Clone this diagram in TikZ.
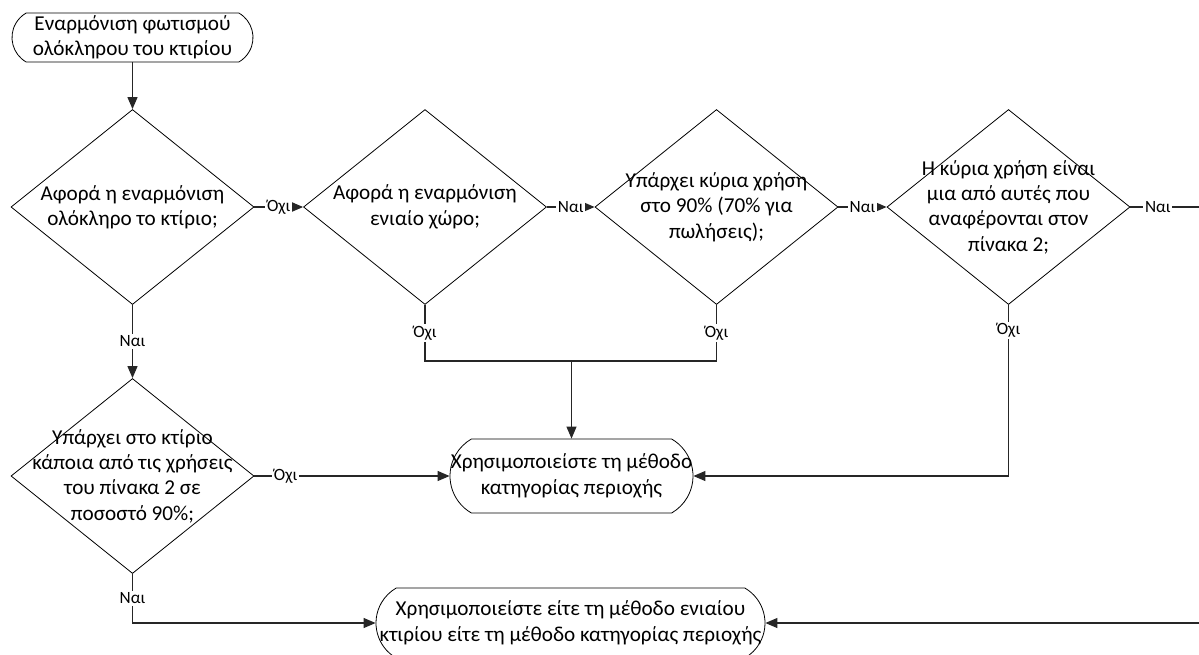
\documentclass[tikz,border=0pt]{standalone}
\usepackage{fontspec}
\setmainfont{Carlito}
\usetikzlibrary{arrows.meta,shapes.geometric,shapes.misc}
\tikzset{%
  decision/.style={draw,shape=diamond,minimum width=121.5pt,minimum height=97.5pt,inner sep=0},
  term/.style={draw,shape=rounded rectangle,rounded rectangle arc length=120,inner sep=0},
  txt/.style={align=center,font=\fontsize{10.6}{12.7}\selectfont,inner sep=0},
  lbl/.style={fill=white,inner sep=0.8,font=\fontsize{8.6}{9}\selectfont},
  flow/.style={draw=black!85,line width=0.55},
  arr/.style={flow,-{Triangle[length=6,width=5]}}
}
\begin{document}
\begin{tikzpicture}[x=0.5pt,y=-0.5pt]
      \useasboundingbox (0,0) rectangle (1199,654);
      \clip (0,0) rectangle (1199,654);
      \path
        (132.5,37.5) node (start)[term,minimum width=120.5pt,minimum height=24.5pt,
          label={[txt]center:Εναρμόνιση φωτισμού\\ολόκληρου του κτιρίου}]{}
        (132.5,207) node (d1)[decision,
          label={[txt]center:Αφορά η εναρμόνιση\\ολόκληρο το κτίριο;}]{}
        (425,207) node (d2)[decision,
          label={[txt]center:Αφορά η εναρμόνιση\\ενιαίο χώρο;}]{}
        (716.5,207) node (d3)[decision,
          label={[txt]center:Υπάρχει κύρια χρήση\\στο 90\% (70\% για\\πωλήσεις);}]{}
        (1008.5,207) node (d4)[decision,
          label={[txt]center:Η κύρια χρήση είναι\\μια από αυτές που\\αναφέρονται στον\\πίνακα 2;}]{}
        (132.5,476) node (d5)[decision,
          label={[txt]center:Υπάρχει στο κτίριο\\κάποια από τις χρήσεις\\του πίνακα 2 σε\\ποσοστό 90\%;}]{}
        (571.5,476) node (t2)[term,minimum width=121.5pt,minimum height=37pt,
          label={[txt]center:Χρησιμοποιείστε τη μέθοδο\\κατηγορίας περιοχής}]{}
        (570.5,623) node (t3)[term,minimum width=194.5pt,minimum height=35pt,
          label={[txt]center:Χρησιμοποιείστε είτε τη μέθοδο ενιαίου\\κτιρίου είτε τη μέθοδο κατηγορίας περιοχής}]{};
      \coordinate (join) at (571.5,361);
      \coordinate (rtop) at (1240,207);
      \coordinate (rbot) at (1240,623);
      \draw[arr] (start) -- (d1);
      \draw[arr] (d1) -- node[lbl]{Όχι} (d2);
      \draw[arr] (d2) -- node[lbl]{Ναι} (d3);
      \draw[arr] (d3) -- node[lbl]{Ναι} (d4);
      \draw[arr] (d1) -- node[lbl]{Ναι} (d5);
      \draw[arr] (d5) -- node[lbl,pos=0.16]{Όχι} (t2);
      \draw[flow] (d2.south) |- node[lbl,pos=0.25]{Όχι} (join);
      \draw[flow] (d3.south) |- node[lbl,pos=0.25]{Όχι} (join);
      \draw[arr] (join) -- (t2);
      \draw[arr] (d4.south) |- node[lbl,pos=0.075]{Όχι} (t2.east);
      \draw[arr] (d5.south) |- node[lbl,pos=0.25]{Ναι} (t3.west);
      \draw[flow] (d4.east) -- node[lbl,pos=0.25]{Ναι} (rtop);
      \draw[arr] (rtop) -- (rbot) -- (t3.east);
\end{tikzpicture}
\end{document}
